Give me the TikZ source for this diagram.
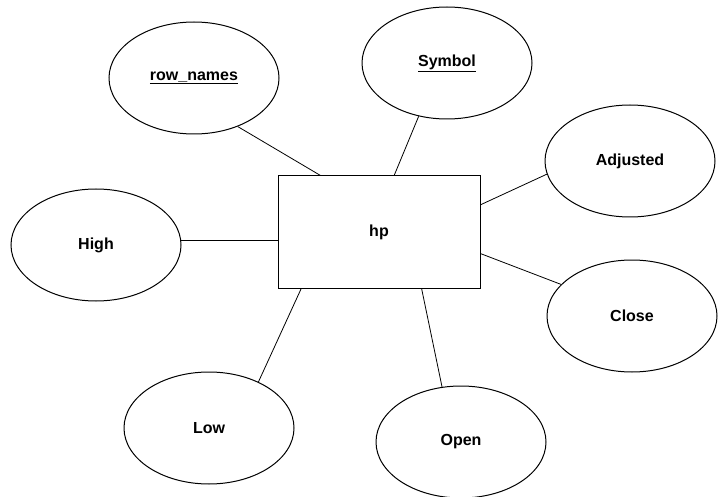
\documentclass[tikz,border=0pt]{standalone}
\usepackage{fontspec}
\setmainfont{Liberation Sans}
\usetikzlibrary{shapes.geometric}
\tikzset{
  attr/.style={draw, ellipse, line width=1pt, minimum width=170pt, minimum height=112pt,
    inner sep=0pt, font=\fontsize{16}{19}\selectfont\bfseries},
  entity/.style={draw, rectangle, line width=1pt, minimum width=202pt, minimum height=112pt,
    inner sep=0pt, font=\fontsize{16}{19}\selectfont\bfseries},
  link/.style={line width=0.8pt}
}
\begin{document}
\begin{tikzpicture}[x=1pt,y=-1pt]
  \useasboundingbox (0,0) rectangle (720,497);
  \fill[white] (0,0) rectangle (720,497);

  % entity
  \node[entity] (hp) at (379,232) {hp};

  % attributes
  \node[attr] (rn)  at (194,78)  {\underline{row\_names}};
  \node[attr] (sym) at (447,63)  {\underline{Symbol}};
  \node[attr] (adj) at (630,161) {Adjusted};
  \node[attr] (hi)  at (96,245)  {High};
  \node[attr] (cl)  at (632,316) {Close};
  \node[attr] (lo)  at (209,428) {Low};
  \node[attr] (op)  at (461,442) {Open};

  % connectors
  \draw[link] (rn.-48.7)  -- (hp.136.5);
  \draw[link] (sym.-118.2) -- (hp.75);
  \draw[link] (adj.-171)  -- (hp.15.5);
  \draw[link] (hi.3.4)    -- (hi.3.4 -| hp.west);
  \draw[link] (cl.156.9)  -- (hp.-12.8);
  \draw[link] (lo.43.8)   -- (hp.-144);
  \draw[link] (op.109.4)  -- (hp.-53.8);
\end{tikzpicture}
\end{document}
